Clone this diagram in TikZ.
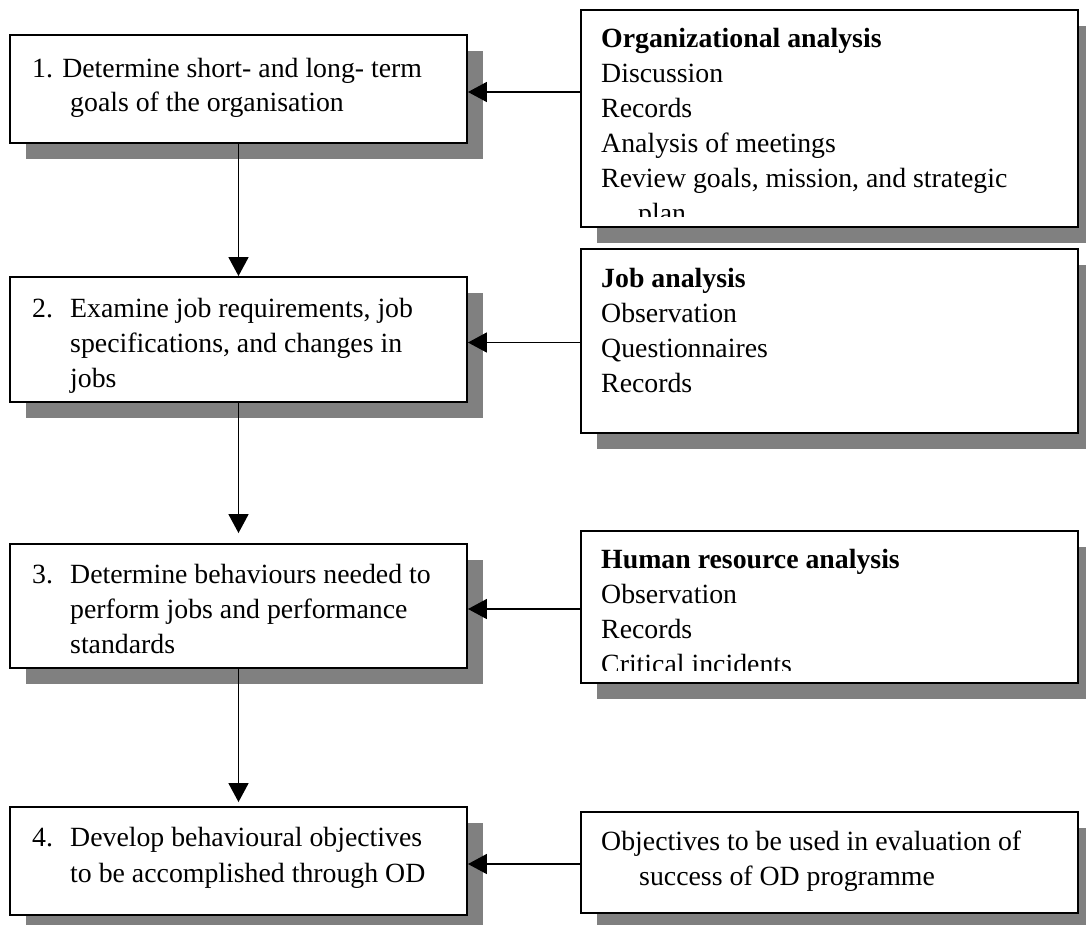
\documentclass[tikz,border=0pt]{standalone}
\usepackage{fontspec}
\setmainfont{Liberation Serif}
\usetikzlibrary{arrows.meta,shadows}
\definecolor{shadowgray}{RGB}{128,128,128}
\tikzset{
  box/.style={draw=black, line width=1.9pt, fill=white, rectangle, inner sep=0pt,
    general shadow={fill=shadowgray, shadow xshift=16pt, shadow yshift=-16pt}},
  txt/.style={anchor=base west, inner sep=0pt, font=\fontsize{27.8}{35}\selectfont},
  head/.style={txt, font=\fontsize{27.8}{35}\selectfont\bfseries},
  arr/.style={line width=1.7pt, -{Triangle[length=19pt,width=20pt]}}
}
\begin{document}
\begin{tikzpicture}[x=1pt,y=-1pt]
\useasboundingbox (0,0) rectangle (1086,924);
\clip (0,0) rectangle (1086,924);

% steps of the process (left column)
\node[box, minimum width=457pt, minimum height=108pt] (l1) at (238.5,89) {};
\node[box, minimum width=457pt, minimum height=125pt] (l2) at (238.5,339.5) {};
\node[box, minimum width=457pt, minimum height=124pt] (l3) at (238.5,606) {};
\node[box, minimum width=457pt, minimum height=108pt] (l4) at (238.5,861) {};

% sources of information (right column)
\node[box, minimum width=497pt, minimum height=217pt] (r1) at (829.5,118.5) {};
\node[box, minimum width=497pt, minimum height=184pt] (r2) at (829.5,341) {};
\node[box, minimum width=497pt, minimum height=152pt] (r3) at (829.5,607) {};
\node[box, minimum width=497pt, minimum height=101pt] (r4) at (829.5,862.5) {};

% step texts
\node[txt] (t1a) at (32,77) {1. Determine short- and long- term};
\node[txt] (t1b) at (70,111) {goals of the organisation};

\node[txt] (t2n) at (32,317) {2.};
\node[txt] (t2a) at (70,317) {Examine job requirements, job};
\node[txt] (t2b) at (70,352) {specifications, and changes in};
\node[txt] (t2c) at (70,387) {jobs};

\node[txt] (t3n) at (32,583) {3.};
\node[txt] (t3a) at (70,583) {Determine behaviours needed to};
\node[txt] (t3b) at (70,618) {perform jobs and performance};
\node[txt] (t3c) at (70,653) {standards};

\node[txt] (t4n) at (32,846) {4.};
\node[txt] (t4a) at (70,846) {Develop behavioural objectives};
\node[txt] (t4b) at (70,882) {to be accomplished through OD};

% analysis texts, cut off at the inner margin of their boxes
\begin{scope}
  \clip (581,10) rectangle (1078,216);
  \node[head] (s1h) at (601,47) {Organizational analysis};
  \node[txt] (s1a) at (601,82) {Discussion};
  \node[txt] (s1b) at (601,117) {Records};
  \node[txt] (s1c) at (601,152) {Analysis of meetings};
  \node[txt] (s1d) at (601,187) {Review goals, mission, and strategic};
  \node[txt] (s1e) at (638,222) {plan};
\end{scope}

\node[head] (s2h) at (601,287) {Job analysis};
\node[txt] (s2a) at (601,322) {Observation};
\node[txt] (s2b) at (601,357) {Questionnaires};
\node[txt] (s2c) at (601,392) {Records};

\begin{scope}
  \clip (581,531) rectangle (1078,670);
  \node[head] (s3h) at (601,568) {Human resource analysis};
  \node[txt] (s3a) at (601,603) {Observation};
  \node[txt] (s3b) at (601,638) {Records};
  \node[txt] (s3c) at (601,673) {Critical incidents};
\end{scope}

\node[txt] (s4a) at (601,850) {Objectives to be used in evaluation of};
\node[txt] (s4b) at (639,885) {success of OD programme};

% flow between the steps
\draw[arr] (l1.south) -- (l2.north);
\draw[arr, shorten >=10pt] (l2.south) -- (l3.north);
\draw[arr, shorten >=4pt] (l3.south) -- (l4.north);

% inputs from the analyses
\draw[arr] ([yshift=-3pt]l1.east -| r1.west) -- ([yshift=-3pt]l1.east);
\draw[arr] ([yshift=-3pt]l2.east -| r2.west) -- ([yshift=-3pt]l2.east);
\draw[arr] ([yshift=-3pt]l3.east -| r3.west) -- ([yshift=-3pt]l3.east);
\draw[arr] ([yshift=-3pt]l4.east -| r4.west) -- ([yshift=-3pt]l4.east);
\end{tikzpicture}
\end{document}
